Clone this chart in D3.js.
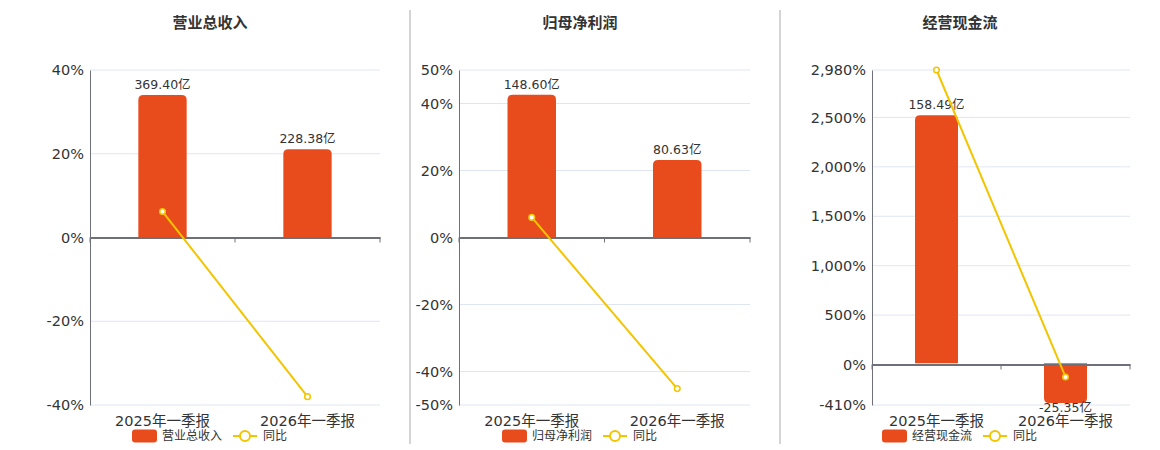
<!DOCTYPE html>
<html><head><meta charset="utf-8">
<script src="https://cdn.jsdelivr.net/npm/d3@7"></script>
<style>
body{margin:0;background:#fff;}
svg{font-family:"DejaVu Sans","Noto Sans CJK SC",sans-serif;}
</style></head><body>
<svg id="c" width="1160" height="450"></svg>
<script>
const categories = ["2025年一季报", "2026年一季报"];
const titles = ["营业总收入", "归母净利润", "经营现金流"];
const barValues = [[369.40, 228.38], [148.60, 80.63], [158.49, -25.35]];
const barLabels = [["369.40亿", "228.38亿"], ["148.60亿", "80.63亿"], ["158.49亿", "-25.35亿"]];
const yoyValues = [[6.2, -38.0], [6.0, -45.1], [2980, -126]];
const yoyTicks = [[-40, -20, 0, 20, 40], [-50, -40, -20, 0, 20, 40, 50], [-410, 0, 500, 1000, 1500, 2000, 2500, 2980]];
const yoyDomains = [[-40, 40], [-50, 50], [-410, 2980]];
const barDomains = [[-434, 434], [-174.3, 174.3], [-26.6, 187.4]];

const layout = [
  {x0: 90, x1: 380, cx: 210},
  {x0: 459, x1: 750, cx: 580},
  {x0: 872, x1: 1130, cx: 960}
];
const Y0 = 70, Y1 = 405;
const BAR = "#e84c1d", LINE = "#f2c500", AXIS = "#6e7079", GRID = "#e0e6f1", TXT = "#333";
const svg = d3.select("#c");
const locale = d3.formatLocale({decimal: ".", thousands: ",", grouping: [3], currency: ["", ""], minus: "-"});
const fmtNum = locale.format(",");

// separators
[410, 780].forEach(x => svg.append("line").attr("x1", x).attr("x2", x).attr("y1", 10).attr("y2", 444)
  .attr("stroke", "#aaa").attr("stroke-width", 1));

function roundedBar(x, y, w, h, r, up) {
  r = Math.min(r, h / 2, w / 2);
  if (up) {
    return `M${x},${y + h}V${y + r}Q${x},${y} ${x + r},${y}H${x + w - r}Q${x + w},${y} ${x + w},${y + r}V${y + h}Z`;
  } else {
    return `M${x},${y}V${y + h - r}Q${x},${y + h} ${x + r},${y + h}H${x + w - r}Q${x + w},${y + h} ${x + w},${y + h - r}V${y}Z`;
  }
}

titles.forEach((t, i) => {
  const L = layout[i];
  const g = svg.append("g");
  const x = d3.scaleBand().domain(categories).range([L.x0, L.x1]);
  const yL = d3.scaleLinear().domain(yoyDomains[i]).range([Y1, Y0]);
  const yB = d3.scaleLinear().domain(barDomains[i]).range([Y1, Y0]);
  const fmt = v => fmtNum(v) + "%";

  g.append("text").attr("x", L.cx).attr("y", 28).attr("text-anchor", "middle")
    .attr("font-size", 15).attr("font-weight", "bold").attr("fill", TXT).text(t);

  // grid
  g.selectAll(".grid").data(yoyTicks[i].filter(v => v !== 0)).join("line")
    .attr("x1", L.x0).attr("x2", L.x1).attr("y1", d => yL(d)).attr("y2", d => yL(d))
    .attr("stroke", GRID).attr("stroke-width", 1);

  // left axis
  const ax = g.append("g").attr("transform", `translate(${L.x0},0)`)
    .call(d3.axisLeft(yL).tickValues(yoyTicks[i]).tickFormat(fmt).tickSize(0).tickPadding(6));
  ax.select(".domain").attr("stroke", AXIS);
  ax.selectAll("text").attr("font-size", 14.5).attr("fill", TXT).attr("font-family", "DejaVu Sans");

  // bars
  const bw = x.bandwidth() / 3;
  g.selectAll(".bar").data(barValues[i]).join("path")
    .attr("fill", BAR)
    .attr("d", (d, j) => {
      const bx = x(categories[j]) + (x.bandwidth() - bw) / 2;
      const yt = d >= 0 ? yB(d) : yB(0);
      const h = Math.abs(yB(d) - yB(0));
      return roundedBar(bx, yt, bw, h, 5, d >= 0);
    });

  // zero axis with category ticks
  const z = yL(0);
  const xa = g.append("g").attr("transform", `translate(0,${z})`)
    .call(d3.axisBottom(x).tickSize(0).tickFormat(""));
  xa.select(".domain").attr("stroke", AXIS).attr("stroke-width", 2);
  [L.x0, (L.x0 + L.x1) / 2, L.x1].forEach(tx => g.append("line").attr("x1", tx).attr("x2", tx)
    .attr("y1", z).attr("y2", z + 5).attr("stroke", AXIS).attr("stroke-width", 1));

  // category labels
  g.selectAll(".cl").data(categories).join("text")
    .attr("x", d => x(d) + x.bandwidth() / 2).attr("y", 426)
    .attr("text-anchor", "middle").attr("font-size", 14.5).attr("fill", TXT).text(d => d);

  // bar labels
  g.selectAll(".bl").data(barValues[i]).join("text")
    .attr("x", (d, j) => x(categories[j]) + x.bandwidth() / 2)
    .attr("y", d => d >= 0 ? yB(d) - 6 : yB(d) + 9)
    .attr("text-anchor", "middle").attr("font-size", 12.5).attr("fill", TXT)
    .text((d, j) => barLabels[i][j]);

  // line
  const lg = d3.line().x((d, j) => x(categories[j]) + x.bandwidth() / 2).y(d => yL(d));
  g.append("path").datum(yoyValues[i]).attr("d", lg).attr("fill", "none")
    .attr("stroke", LINE).attr("stroke-width", 2);
  g.selectAll(".pt").data(yoyValues[i]).join("circle")
    .attr("cx", (d, j) => x(categories[j]) + x.bandwidth() / 2).attr("cy", d => yL(d))
    .attr("r", 2.8).attr("fill", "#fff").attr("stroke", LINE).attr("stroke-width", 1.5);

  // legend
  const lx = L.cx - 78, ly = 436;
  const leg = g.append("g");
  leg.append("rect").attr("x", lx).attr("y", ly - 6.5).attr("width", 25).attr("height", 13).attr("rx", 3).attr("fill", BAR);
  leg.append("text").attr("x", lx + 30).attr("y", ly).attr("dy", "0.35em").attr("font-size", 12).attr("fill", TXT).text(t);
  const l2 = lx + 101;
  leg.append("line").attr("x1", l2).attr("x2", l2 + 24).attr("y1", ly).attr("y2", ly).attr("stroke", LINE).attr("stroke-width", 2);
  leg.append("circle").attr("cx", l2 + 12).attr("cy", ly).attr("r", 5).attr("fill", "#fff").attr("stroke", LINE).attr("stroke-width", 2);
  leg.append("text").attr("x", l2 + 30).attr("y", ly).attr("dy", "0.35em").attr("font-size", 12).attr("fill", TXT).text("同比");
});
</script>
</body></html>
